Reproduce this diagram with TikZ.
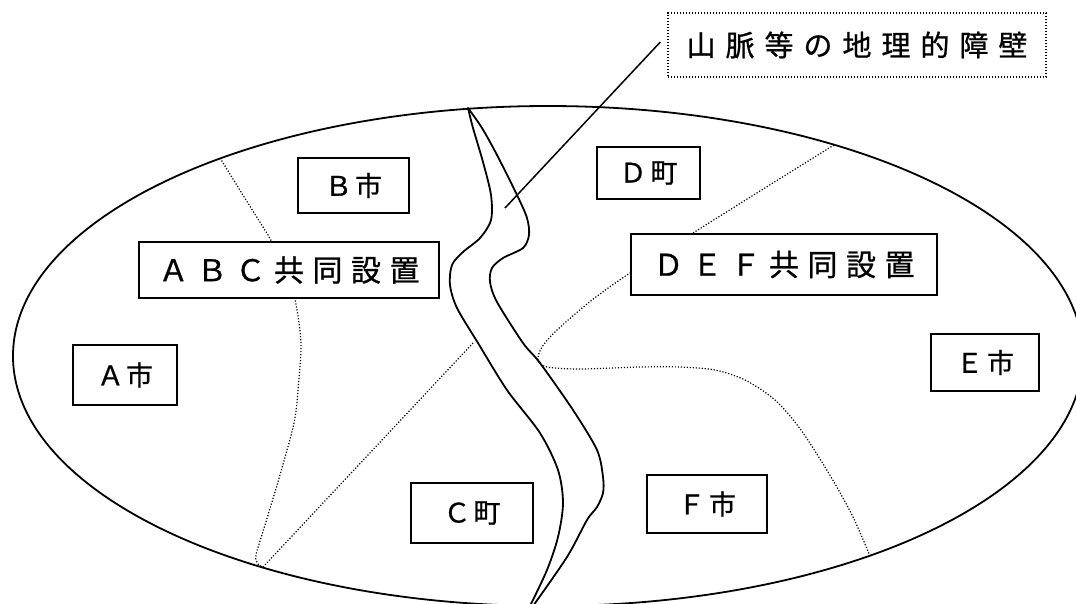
\documentclass[tikz,border=0pt]{standalone}
\usepackage{fontspec}
\newfontfamily\jp[FakeBold=0.8]{Noto Sans CJK JP}
\makeatletter
\newcommand\Lsp[2]{\let\lsp@sep\relax\@tfor\lsp@c:=#2\do{\lsp@sep\lsp@c\def\lsp@sep{\kern#1}}}
\makeatother
\tikzset{
  box/.style={draw, line width=1.6pt, fill=white, inner sep=0pt},
  smallbox/.style={box, font={\jp\fontsize{27}{27}\selectfont}},
  bigbox/.style={box, font={\jp\fontsize{30}{30}\selectfont}},
  labelbox/.style={draw, line width=1.3pt, dash pattern=on 1.3pt off 1.7pt, fill=white, inner sep=0pt, font={\jp\fontsize{29}{29}\selectfont}},
  bound/.style={line width=1.2pt, dash pattern=on 1.2pt off 1.8pt},
  outline/.style={line width=1.8pt},
  barrier/.style={line width=1.8pt, line cap=round},
}
\begin{document}
\begin{tikzpicture}[x=1pt,y=-1pt]
\useasboundingbox (0,0) rectangle (1076,603);
\fill[white] (0,0) rectangle (1076,603);
% outer region
\draw[outline] (548,356) ellipse [x radius=535, y radius=250];
% boundaries
\draw[bound] plot[smooth, tension=0.5] coordinates {(220,158) (246,200) (272,242) (290,280) (297,310) (301,345) (298,390) (294,423) (280,475) (265,525) (256,555) (258,564) (263,567)} -- (473,343);
\draw[bound] plot[smooth, tension=0.5] coordinates {(834,145) (760,191) (693,233) (630,273) (592,300) (557,330) (542,347) (538,360) (547,367) (580,369) (640,367) (680,367) (715,370) (745,380) (775,400) (801,430) (831,477) (853,517) (870,556)};
% barrier
\draw[barrier] plot[smooth, tension=0.5] coordinates {(468,108) (473,128) (483,162) (491,195) (491,220) (480,238) (463,252) (452,265) (450,285) (457,308) (478,343) (507,390) (540,433) (558,470) (563,503) (558,537) (547,570) (530,606)};
\draw[barrier] plot[smooth, tension=0.5] coordinates {(468,108) (482,128) (497,155) (517,195) (527,218) (529,235) (523,248) (503,258) (492,268) (490,282) (497,302) (523,343) (540,363) (573,410) (597,450) (603,477) (603,493) (597,507) (587,520) (567,557) (533,606)};
% boxes
\node[smallbox, minimum width=111pt, minimum height=55pt] (b) at (353.5,185.5) {\Lsp{3pt}{Ｂ市}};
\node[smallbox, minimum width=103pt, minimum height=52pt] (d) at (648.5,173) {\Lsp{4pt}{Ｄ町}};
\node[smallbox, minimum width=104pt, minimum height=60pt] (a) at (125,375) {\Lsp{2pt}{Ａ市}};
\node[smallbox, minimum width=122pt, minimum height=60pt] (c) at (472,513) {\Lsp{3pt}{Ｃ町}};
\node[smallbox, minimum width=120pt, minimum height=58pt] (f) at (707,504) {\Lsp{4pt}{Ｆ市}};
\node[smallbox, minimum width=108pt, minimum height=57pt] (e) at (985,362.5) {\Lsp{4pt}{Ｅ市}};
\node[bigbox, minimum width=300pt, minimum height=56pt] (abc) at (289,270) {\Lsp{8.5pt}{ＡＢＣ共同設置}};
\node[bigbox, minimum width=306pt, minimum height=61pt] (def) at (784,264.5) {\Lsp{8.5pt}{ＤＥＦ共同設置}};
\node[labelbox, minimum width=378pt, minimum height=64pt] (lbl) at (857,45) {\Lsp{10pt}{山脈等の地理的障壁}};
% leader
\coordinate (tip) at (505,208);
\draw[line width=1.5pt] ([xshift=-7pt,yshift=3pt]lbl.west) -- (tip);
\end{tikzpicture}
\end{document}
